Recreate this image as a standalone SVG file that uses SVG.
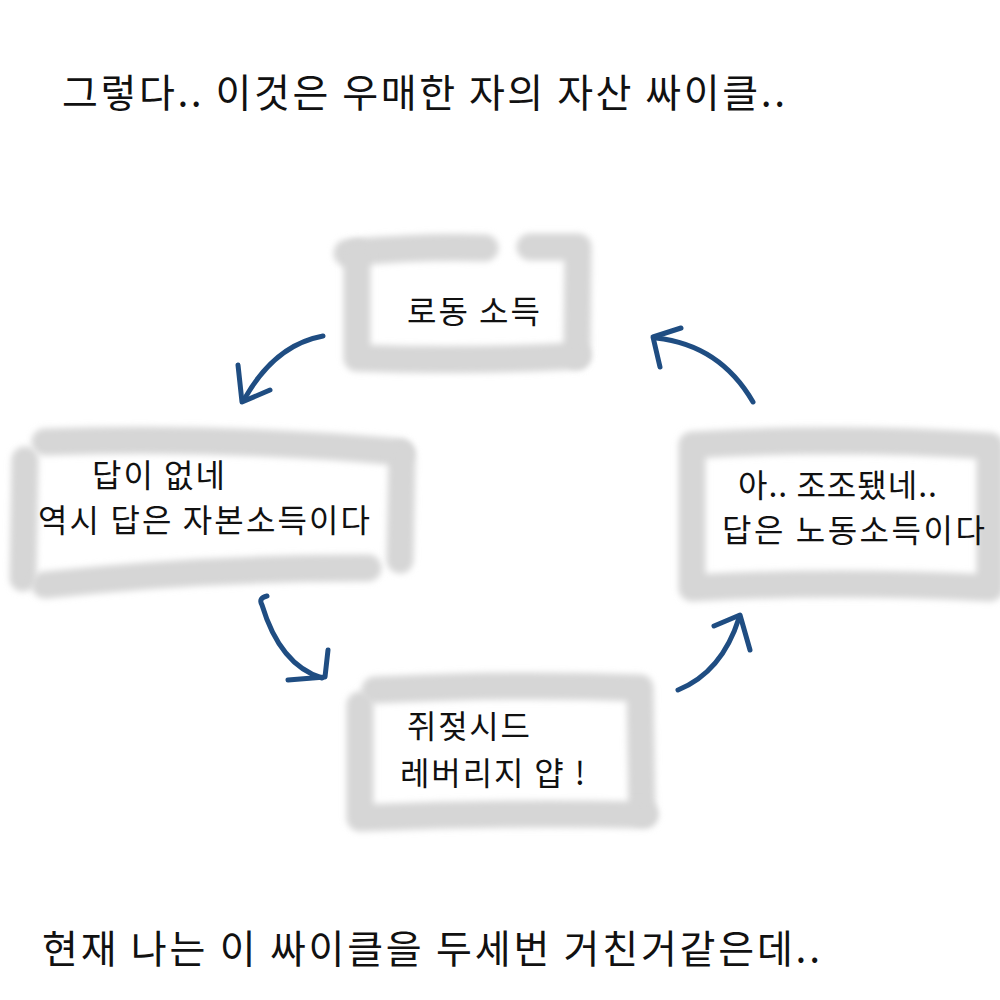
<svg xmlns="http://www.w3.org/2000/svg" width="1000" height="1000" viewBox="0 0 1000 1000">
<defs>
<filter id="soft" filterUnits="userSpaceOnUse" x="0" y="0" width="1000" height="1000"><feGaussianBlur stdDeviation="3"/></filter>
</defs>
<style>
.brush{fill:none;stroke:#d6d6d6;stroke-width:27;stroke-linecap:round;stroke-linejoin:round;filter:url(#soft)}
.arrow{fill:none;stroke:#1f4d82;stroke-width:5;stroke-linecap:round;stroke-linejoin:round}
.t{font-family:"Noto Sans CJK KR","Noto Sans",sans-serif;fill:#111}
.big{font-size:39px}
.lbl{font-size:32px}
</style>
<rect width="1000" height="1000" fill="#fff"/>
<text class="t big" x="62" y="107" textLength="723" lengthAdjust="spacing">그렇다.. 이것은 우매한 자의 자산 싸이클..</text>

<g id="node-labor">
<path class="brush" d="M347,253 Q420,246 485,248"/>
<path class="brush" d="M530,247 L578,247 L577,355"/>
<path class="brush" d="M357,253 L357,358 Q470,362 577,356"/>
<text class="t lbl" x="407" y="323" textLength="133" lengthAdjust="spacing">로동 소득</text>
</g>

<g id="node-capital">
<path class="brush" d="M45,442 Q220,436 400,452"/>
<path class="brush" d="M25,460 L23,578"/>
<path class="brush" d="M45,585 Q200,568 368,568"/>
<path class="brush" d="M402,455 L400,560"/>
<text class="t lbl" x="92" y="487" textLength="133" lengthAdjust="spacing">답이 없네</text>
<text class="t lbl" x="38" y="532" textLength="332" lengthAdjust="spacing">역시 답은 자본소득이다</text>
</g>

<g id="node-right">
<path class="brush" d="M692,445 Q840,436 990,446 L990,588 Q840,580 692,588 Z"/>
<text class="t lbl" x="738" y="497" textLength="199" lengthAdjust="spacing">아.. 조조됐네..</text>
<text class="t lbl" x="722" y="542" textLength="263" lengthAdjust="spacing">답은 노동소득이다</text>
</g>

<g id="node-bottom">
<path class="brush" d="M375,690 Q510,683 640,688 L642,812"/>
<path class="brush" d="M360,705 L360,818 Q500,812 645,815"/>
<text class="t lbl" x="407" y="738" textLength="123" lengthAdjust="spacing">쥐젖시드</text>
<text class="t lbl" x="400" y="785" textLength="185" lengthAdjust="spacing">레버리지 얍 !</text>
</g>

<g id="connectors">
<path class="arrow" d="M323,336 Q275,345 245,398"/>
<path class="arrow" d="M238,365 L242,402 L270,390"/>
<path class="arrow" d="M267,596 Q258,598 262,605 Q280,665 322,678"/>
<path class="arrow" d="M288,680 L325,677 L328,650"/>
<path class="arrow" d="M678,690 Q722,672 739,618"/>
<path class="arrow" d="M714,626 L740,615 L750,650"/>
<path class="arrow" d="M753,402 Q720,345 656,338"/>
<path class="arrow" d="M681,328 L653,337 L660,367"/>
</g>

<text class="t big" x="42" y="963" textLength="778" lengthAdjust="spacing">현재 나는 이 싸이클을 두세번 거친거같은데..</text>
</svg>
